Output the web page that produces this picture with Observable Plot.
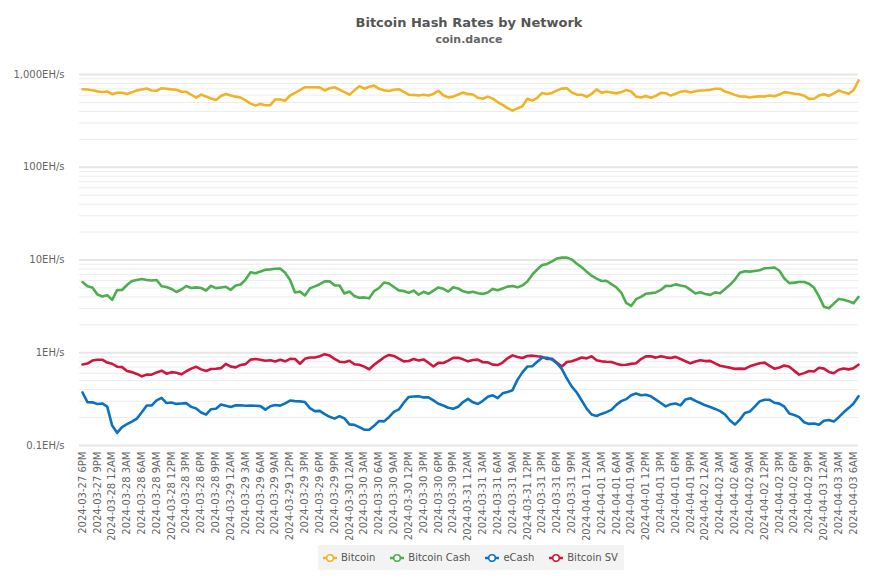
<!DOCTYPE html>
<html>
<head>
<meta charset="utf-8">
<script src="https://cdn.jsdelivr.net/npm/d3@7"></script>
<script src="https://cdn.jsdelivr.net/npm/@observablehq/plot@0.6"></script>
<style>
  body { margin: 0; background: #fff; font-family: "DejaVu Sans", sans-serif; }
  #wrap { position: relative; width: 877px; height: 585px; overflow: hidden; }
  #title { position: absolute; left: 80px; width: 778px; top: 15px; line-height: 16px; text-align: center; font-weight: bold; font-size: 13px; color: #555; }
  #subtitle { position: absolute; left: 80px; width: 778px; top: 33px; line-height: 14px; text-align: center; font-weight: bold; font-size: 11px; color: #666; }
  #chart { position: absolute; left: 0; top: 50px; }
  #legend { position: absolute; left: 318px; top: 545px; height: 25px; background: #f3f3f3; display: flex; align-items: center; padding: 0 6px 0 5px; gap: 15px; font-size: 10px; color: #555; }
  .item { display: flex; align-items: center; }
  .item svg { margin-right: 4px; }
</style>
</head>
<body>
<div id="wrap">
  <div id="title">Bitcoin Hash Rates by Network</div>
  <div id="subtitle">coin.dance</div>
  <div id="chart"></div>
  <div id="legend"></div>
</div>
<script>
// Hourly hash rates (EH/s), starting 2024-03-27 6PM
const seriesNames = ["Bitcoin", "Bitcoin Cash", "eCash", "Bitcoin SV"];
const seriesColors = ["#f0b323", "#4cae4f", "#0b72c2", "#d0153e"];

const bitcoin = [
  694,688,676,658,648,656,614,635,635,615,
  642,674,690,705,673,668,712,703,691,686,
  651,651,605,564,608,578,552,530,586,617,
  594,577,565,525,485,464,482,466,467,538,
  538,522,594,633,677,730,730,730,726,673,
  712,728,686,646,606,674,748,703,739,759,
  700,677,664,684,694,650,606,600,595,606,
  595,617,668,598,567,577,609,640,614,609,
  561,548,578,550,505,470,434,408,432,453,
  548,524,561,633,617,633,674,705,712,640,
  606,606,575,617,690,638,653,640,626,646,
  679,656,577,564,586,561,588,635,629,593,
  620,653,663,640,660,673,676,683,703,703,
  655,631,603,580,580,565,575,581,578,594,
  583,608,646,635,619,612,591,546,548,593,
  612,587,627,674,642,620,676,862
];
const bitcoinCash = [
  5.79,5.21,5.05,4.26,4.04,4.18,3.71,4.73,4.75,5.38,
  5.94,6.09,6.24,6.09,6.0,6.09,5.22,5.12,4.87,4.52,
  4.81,5.25,4.99,5.07,4.99,4.69,5.27,4.97,5.05,5.14,
  4.77,5.32,5.44,6.15,7.37,7.2,7.5,7.86,7.92,8.06,
  8.08,7.28,6.09,4.47,4.56,4.15,4.94,5.20,5.48,5.88,
  5.9,5.33,5.31,4.35,4.57,4.10,3.92,3.95,3.86,4.63,
  4.99,5.72,5.58,5.12,4.70,4.64,4.42,4.68,4.22,4.54,
  4.32,4.68,5.06,4.89,4.56,5.08,4.94,4.60,4.45,4.55,
  4.38,4.31,4.47,4.88,4.72,4.93,5.16,5.25,5.07,5.31,
  5.85,6.94,7.9,8.85,9.07,9.68,10.4,10.6,10.6,10.1,
  9.12,8.34,7.49,6.77,6.31,5.94,5.98,5.50,5.08,4.46,
  3.44,3.2,3.78,4.01,4.33,4.39,4.47,4.76,5.26,5.25,
  5.46,5.31,5.19,4.77,4.35,4.48,4.30,4.21,4.48,4.39,
  4.87,5.40,6.15,7.28,7.57,7.5,7.62,7.74,8.14,8.2,
  8.3,7.65,6.32,5.63,5.70,5.79,5.79,5.54,5.02,4.05,
  3.14,3.02,3.39,3.79,3.73,3.60,3.42,4.0
];
const eCash = [
  0.373,0.293,0.292,0.280,0.284,0.263,0.164,0.137,0.158,0.170,
  0.181,0.195,0.228,0.270,0.271,0.306,0.326,0.287,0.291,0.281,
  0.284,0.286,0.261,0.250,0.227,0.215,0.246,0.249,0.276,0.268,
  0.260,0.271,0.272,0.268,0.270,0.268,0.266,0.244,0.265,0.273,
  0.269,0.285,0.305,0.301,0.299,0.294,0.253,0.235,0.236,0.218,
  0.204,0.195,0.207,0.196,0.169,0.167,0.158,0.148,0.148,0.163,
  0.184,0.182,0.202,0.230,0.245,0.289,0.334,0.337,0.340,0.330,
  0.330,0.306,0.282,0.270,0.255,0.249,0.262,0.294,0.318,0.292,
  0.280,0.303,0.335,0.348,0.324,0.365,0.378,0.395,0.510,0.614,
  0.710,0.716,0.800,0.884,0.884,0.845,0.766,0.666,0.527,0.432,
  0.373,0.306,0.250,0.216,0.208,0.219,0.229,0.242,0.274,0.301,
  0.316,0.348,0.364,0.348,0.352,0.339,0.312,0.287,0.264,0.279,
  0.284,0.271,0.314,0.323,0.303,0.287,0.271,0.260,0.248,0.235,
  0.216,0.186,0.168,0.190,0.224,0.232,0.263,0.299,0.311,0.311,
  0.289,0.283,0.262,0.221,0.213,0.202,0.178,0.171,0.173,0.167,
  0.185,0.188,0.181,0.202,0.228,0.253,0.284,0.340
];
const bitcoinSV = [
  0.748,0.765,0.824,0.841,0.841,0.784,0.761,0.707,0.700,0.635,
  0.618,0.591,0.557,0.581,0.580,0.614,0.640,0.595,0.618,0.609,
  0.585,0.632,0.674,0.705,0.662,0.635,0.668,0.673,0.682,0.758,
  0.709,0.696,0.739,0.754,0.843,0.857,0.841,0.820,0.830,0.806,
  0.841,0.808,0.860,0.856,0.761,0.860,0.888,0.890,0.917,0.966,
  0.933,0.860,0.800,0.790,0.820,0.752,0.743,0.709,0.664,0.741,
  0.813,0.890,0.947,0.924,0.864,0.808,0.814,0.857,0.826,0.847,
  0.780,0.712,0.778,0.776,0.822,0.883,0.881,0.849,0.808,0.834,
  0.843,0.790,0.787,0.745,0.737,0.784,0.870,0.937,0.899,0.877,
  0.924,0.930,0.915,0.903,0.856,0.862,0.780,0.711,0.796,0.810,
  0.845,0.890,0.870,0.917,0.832,0.808,0.800,0.796,0.763,0.737,
  0.743,0.759,0.771,0.854,0.913,0.917,0.886,0.919,0.892,0.879,
  0.903,0.856,0.810,0.769,0.804,0.832,0.813,0.818,0.767,0.725,
  0.707,0.691,0.670,0.674,0.670,0.714,0.743,0.769,0.782,0.721,
  0.673,0.693,0.728,0.705,0.638,0.581,0.603,0.635,0.629,0.689,
  0.674,0.621,0.601,0.655,0.677,0.662,0.682,0.743
];

const yTickValues = [0.1, 1, 10, 100, 1000];
const yTickLabels = ["0.1EH/s", "1EH/s", "10EH/s", "100EH/s", "1,000EH/s"];

const startTime = Date.UTC(2024, 2, 27, 18);
const times = bitcoin.map((_, i) => new Date(startTime + i * 3600e3));
const xTicks = d3.utcHour.every(3).range(times[0], new Date(+times[times.length - 1] + 1));
const fmt = d3.utcFormat("%Y-%m-%d %-I%p");

const allValues = [bitcoin, bitcoinCash, eCash, bitcoinSV];
const rowsFor = (k) => allValues[k].map((v, i) => ({t: times[i], v, s: seriesNames[k]}));

const minorTicks = [];
for (let d = 0.1; d < 1000; d *= 10) for (let m = 2; m <= 9; m++) minorTicks.push(+(d * m).toPrecision(3));

const plot = Plot.plot({
  width: 877,
  height: 490,
  marginTop: 24,
  marginBottom: 95,
  marginLeft: 82,
  marginRight: 19,
  style: {fontFamily: "DejaVu Sans", fontSize: "10px", color: "#666", background: "transparent"},
  x: {type: "utc", domain: [times[0], times[times.length - 1]]},
  y: {type: "log", domain: [0.1, 1000]},
  marks: [
    Plot.ruleY(minorTicks, {stroke: "#ececec", strokeWidth: 1, insetLeft: -3}),
    Plot.ruleY(yTickValues, {stroke: "#e6e6e6", strokeWidth: 2.2, insetLeft: -3}),
    Plot.axisY({ticks: yTickValues, tickFormat: (d) => yTickLabels[yTickValues.indexOf(d)], tickSize: 0, tickPadding: 18, label: null, fill: "#666"}),
    Plot.axisX({ticks: xTicks, tickFormat: fmt, tickRotate: -90, tickSize: 0, tickPadding: 6, label: null, fill: "#666"}),
    ...[3, 2, 1, 0].map((k) => Plot.line(rowsFor(k), {x: "t", y: "v", stroke: seriesColors[k], strokeWidth: 2.6, strokeLinejoin: "round", strokeLinecap: "round"}))
  ]
});
document.getElementById("chart").appendChild(plot);

const legend = document.getElementById("legend");
seriesNames.forEach((name, k) => {
  const item = document.createElement("div");
  item.className = "item";
  item.innerHTML = `<svg width="14" height="10"><line x1="0" x2="14" y1="5" y2="5" stroke="${seriesColors[k]}" stroke-width="2.5"/><circle cx="7" cy="5" r="3.3" fill="#fff" stroke="${seriesColors[k]}" stroke-width="1.6"/></svg><span>${name}</span>`;
  legend.appendChild(item);
});
</script>
</body>
</html>
